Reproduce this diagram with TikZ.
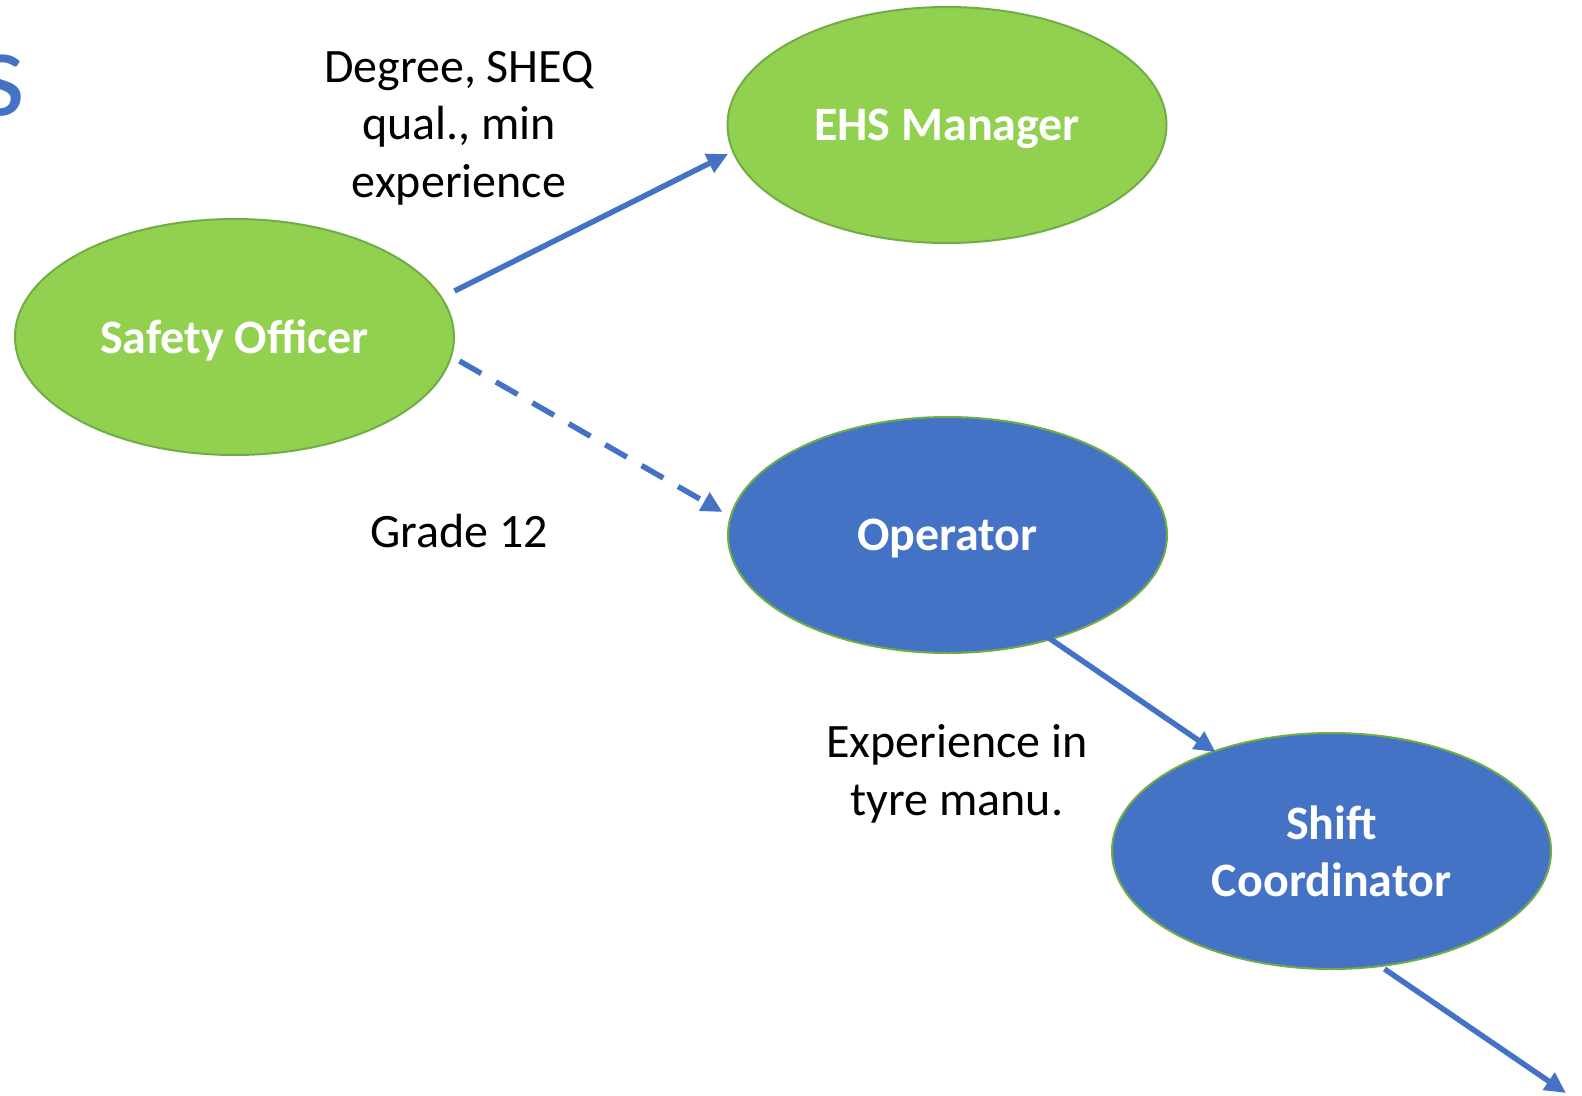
\documentclass[tikz,border=0pt]{standalone}
\usepackage{fontspec}
\setmainfont{Carlito}
\usetikzlibrary{shapes.geometric,arrows.meta}
\definecolor{gfill}{HTML}{92D050}
\definecolor{gline}{HTML}{70AD47}
\definecolor{bfill}{HTML}{4472C4}
\begin{document}
\begin{tikzpicture}[x=1pt,y=-1pt,
  role/.style={ellipse, draw=gline, line width=2pt, minimum width=439pt, minimum height=236pt,
    inner sep=0pt, text=white, text depth=0pt, font=\fontsize{48}{57.5}\selectfont\bfseries, align=center},
  greenrole/.style={role, fill=gfill},
  bluerole/.style={role, fill=bfill},
  conn/.style={draw=bfill, line width=5.5pt, -{Triangle[length=21pt,width=20pt]}},
  dashconn/.style={conn, dash pattern=on 25pt off 17pt},
  lbl/.style={font=\fontsize{48}{57.5}\selectfont, align=center, text=black, text depth=0pt, inner sep=0pt}]
\useasboundingbox (0,0) rectangle (1582,1095);
\node[anchor=base east, text=bfill, inner sep=0pt, font=\fontsize{125}{150}\selectfont] (ttl) at (26,115) {s};
\node[greenrole] (ehs) at (947,125) {EHS Manager};
\node[greenrole] (so) at (234.5,337) {Safety Officer};
\node[bluerole] (op) at (947.5,535) {Operator};
\node[bluerole] (sc) at (1331.5,851) {Shift\\Coordinator};
\node[lbl] (l1) at (459,124) {Degree, SHEQ\\qual., min\\experience};
\node[lbl] (l2) at (459,531) {Grade 12};
\node[lbl] (l3) at (957,770) {Experience in\\tyre manu.};
\coordinate (endpt) at (1566,1093);
\draw[conn] ([shift={(220,-46)}]so.center) -- ([shift={(-219,29)}]ehs.center);
\draw[dashconn] ([shift={(225,24)}]so.center) -- ([shift={(-225,-23)}]op.center);
\draw[conn] ([shift={(100,102)}]op.center) -- ([shift={(-116,-99)}]sc.center);
\draw[conn] ([shift={(53,118)}]sc.center) -- (endpt);
\end{tikzpicture}
\end{document}
